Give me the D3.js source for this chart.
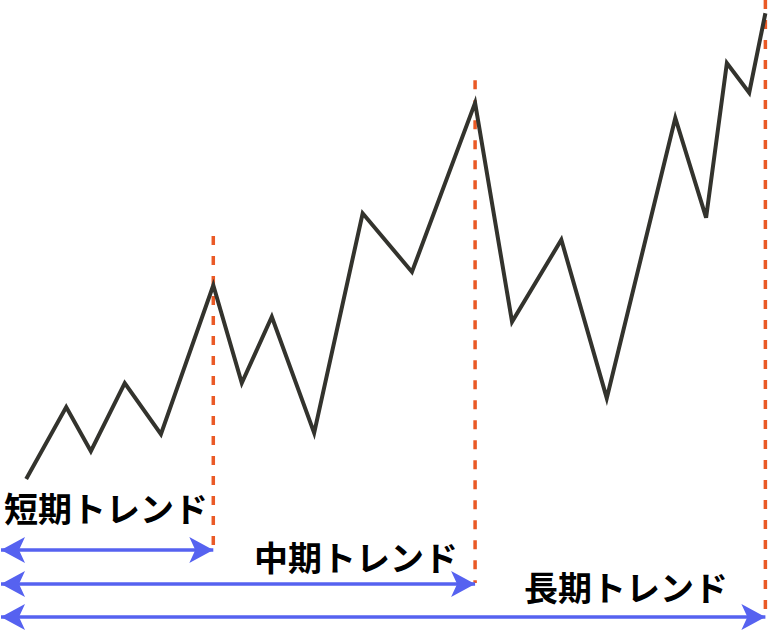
<!DOCTYPE html>
<html>
<head>
<meta charset="utf-8">
<script src="https://cdn.jsdelivr.net/npm/d3@7"></script>
<style>
  html, body { margin: 0; padding: 0; background: #fff; }
  svg { display: block; }
</style>
</head>
<body>
<svg id="chart" width="770" height="631"></svg>
<script>
// price path (x: time 0-100, y: price 0-100)
const times  = [3.4, 8.6, 11.8, 16.2, 20.9, 27.7, 31.4, 35.3, 40.8, 47.1, 53.5, 61.7, 66.5, 72.9, 78.8, 87.7, 91.7, 94.4, 97.3, 99.4];
const prices = [24.1, 35.5, 28.5, 39.3, 31.2, 54.8, 39.3, 49.8, 31.4, 66.2, 56.9, 83.7, 49.0, 62.0, 36.9, 81.3, 65.5, 90.0, 85.3, 97.9];

// trend spans: end point index, label, top of dashed marker (price units)
const trendLabels = ["短期トレンド", "中期トレンド", "長期トレンド"];
const trendEnds   = [5, 11, 19];
const trendTops   = [62.6, 87.3, 100];

let svg = d3.select("#chart");
let svgWidth = parseInt(svg.attr("width"));
let svgHeight = parseInt(svg.attr("height"));

let xScale = d3.scaleLinear().domain([0, 100]).range([0, svgWidth]);
let yScale = d3.scaleLinear().domain([0, 100]).range([svgHeight, 0]);

let lineColor = "#33332d";
let dashColor = "#ea5a26";
let arrowColor = "#5662f0";

// arrow rows and label centres (pixels)
let arrowY = [550, 584, 617];
let dashBottom = [548, 583, 610];
let labelX = [4, 254, 524];
let labelY = [507, 556, 586];

// arrowhead marker
svg.append("defs").append("marker")
    .attr("id", "arrow")
    .attr("markerUnits", "userSpaceOnUse")
    .attr("viewBox", "-26 -14 28 28")
    .attr("refX", 0)
    .attr("refY", 0)
    .attr("markerWidth", 28)
    .attr("markerHeight", 28)
    .attr("orient", "auto-start-reverse")
    .append("path")
    .attr("d", "M0,0 L-24,-13 L-18,0 L-24,13 Z")
    .attr("fill", arrowColor);

// dashed verticals
svg.selectAll(".trend-end")
    .data(trendEnds)
    .enter()
    .append("line")
    .attr("class", "trend-end")
    .attr("x1", d => xScale(times[d]))
    .attr("x2", d => xScale(times[d]))
    .attr("y1", (d, i) => yScale(trendTops[i]))
    .attr("y2", (d, i) => dashBottom[i])
    .attr("stroke", dashColor)
    .attr("stroke-width", 3.5)
    .attr("stroke-dasharray", "9,11");

// price line
let line = d3.line()
    .x((d, i) => xScale(times[i]))
    .y(d => yScale(d));

svg.append("path")
    .datum(prices)
    .attr("d", line)
    .attr("fill", "none")
    .attr("stroke", lineColor)
    .attr("stroke-width", 4)
    .attr("stroke-linejoin", "miter");

// double arrows
svg.selectAll(".span")
    .data(trendEnds)
    .enter()
    .append("line")
    .attr("class", "span")
    .attr("x1", 1)
    .attr("x2", d => xScale(times[d]))
    .attr("y1", (d, i) => arrowY[i])
    .attr("y2", (d, i) => arrowY[i])
    .attr("stroke", arrowColor)
    .attr("stroke-width", 3.5)
    .attr("marker-start", "url(#arrow)")
    .attr("marker-end", "url(#arrow)");

// labels
svg.selectAll(".label")
    .data(trendLabels)
    .enter()
    .append("text")
    .attr("class", "label")
    .attr("x", (d, i) => labelX[i])
    .attr("y", (d, i) => labelY[i])
    .attr("dominant-baseline", "central")
    .attr("font-family", "'Noto Sans CJK JP', sans-serif")
    .attr("font-weight", "bold")
    .attr("font-size", 34)
    .attr("fill", "#000")
    .text(d => d);
</script>
</body>
</html>
